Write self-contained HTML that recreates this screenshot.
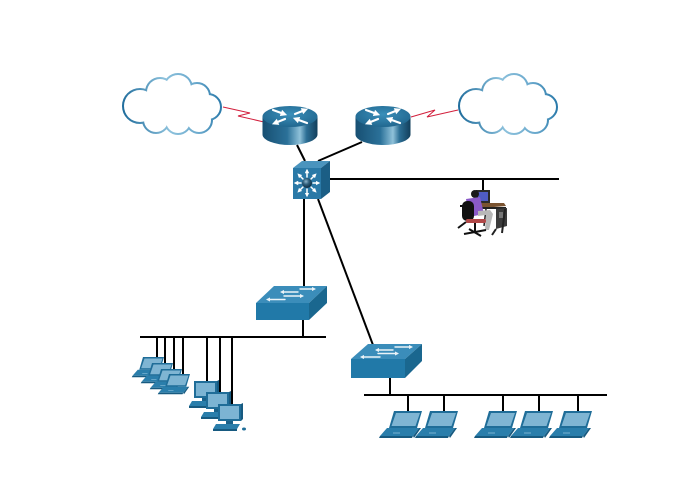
<!DOCTYPE html>
<html><head><meta charset="utf-8"><style>
html,body{margin:0;padding:0;background:#fff;}
svg{display:block;}
</style></head><body>
<svg width="680" height="490" viewBox="0 0 680 490" xmlns="http://www.w3.org/2000/svg">
<defs>
  <linearGradient id="cg" gradientUnits="userSpaceOnUse" x1="122" y1="110" x2="222" y2="100">
    <stop offset="0" stop-color="#1d6b9b"/>
    <stop offset="0.45" stop-color="#8cc1dc"/>
    <stop offset="0.75" stop-color="#6aa9cd"/>
    <stop offset="1" stop-color="#2677a8"/>
  </linearGradient>
  <linearGradient id="rbody" x1="0" y1="0" x2="1" y2="0">
    <stop offset="0" stop-color="#174f72"/>
    <stop offset="0.45" stop-color="#2b7199"/>
    <stop offset="0.68" stop-color="#8fc1d9"/>
    <stop offset="0.8" stop-color="#2c6f95"/>
    <stop offset="1" stop-color="#123f5c"/>
  </linearGradient>
  <radialGradient id="rtop" cx="0.5" cy="0.4" r="0.6">
    <stop offset="0" stop-color="#3a8fba"/>
    <stop offset="1" stop-color="#21678f"/>
  </radialGradient>
  <radialGradient id="ball" cx="0.4" cy="0.35" r="0.6">
    <stop offset="0" stop-color="#8fb6cc"/>
    <stop offset="0.5" stop-color="#2f5f7c"/>
    <stop offset="1" stop-color="#12334a"/>
  </radialGradient>
  <marker id="ah" viewBox="0 0 6 6" refX="3" refY="3" markerWidth="3" markerHeight="3" orient="auto">
    <path d="M0,0 L6,3 L0,6 Z" fill="#fff"/>
  </marker>
  <g id="laptop">
    <polygon points="4,0 32,0 27,17 -1,17" fill="#1f6d98"/>
    <polygon points="6,2 30,2 25.5,15 1.5,15" fill="#7fb5d3"/>
    <polygon points="-3,17 29,17 23,25 -10,25" fill="#2a7eab"/>
    <polygon points="-10,25 23,25 22,27 -11,27" fill="#175a80"/>
    <polygon points="29,17 31,17 24,27 23,25" fill="#175a80"/>
    <line x1="3" y1="22" x2="10" y2="22" stroke="#8cc0dc" stroke-width="0.8"/>
  </g>
  <g id="pc">
    <rect x="0" y="0" width="23" height="17" fill="#1f6d98"/>
    <rect x="2" y="2" width="19" height="13" fill="#7cb4d3"/>
    <polygon points="23,0 25,-1 25,15 23,17" fill="#175a80"/>
    <rect x="8" y="17" width="7" height="3" fill="#1a6189"/>
    <polygon points="-2,20 22,20 19,25 -5,25" fill="#2a7eab"/>
    <polygon points="-5,25 19,25 19,27 -5,27" fill="#175a80"/>
  </g>
  <g id="router">
    <path d="M-27.5,0 L-27.5,18 A27.5,10.5 0 0 0 27.5,18 L27.5,0 Z" fill="url(#rbody)"/>
    <ellipse cx="0" cy="0" rx="27.5" ry="10.5" fill="url(#rtop)"/>
    <g stroke="#fff" stroke-width="2.2" stroke-linecap="round">
      <line x1="-17" y1="-6.5" x2="-6" y2="-2.5" marker-end="url(#ah)"/>
      <line x1="17" y1="6.5" x2="6" y2="2.5" marker-end="url(#ah)"/>
      <line x1="5" y1="-2.5" x2="15" y2="-6.5" marker-end="url(#ah)"/>
      <line x1="-5" y1="2.5" x2="-15" y2="6.5" marker-end="url(#ah)"/>
    </g>
  </g>
  <g id="cloud">
    <g fill="none" stroke="url(#cg)" stroke-width="4">
      <circle cx="140" cy="106" r="16"/>
      <circle cx="160" cy="92" r="13"/>
      <circle cx="178" cy="88" r="13"/>
      <circle cx="197" cy="96" r="12"/>
      <circle cx="208" cy="107" r="12"/>
      <circle cx="199" cy="120" r="12"/>
      <circle cx="178" cy="121" r="12"/>
      <circle cx="156" cy="120" r="12"/>
    </g>
    <g fill="#fff">
      <circle cx="140" cy="106" r="16"/>
      <circle cx="160" cy="92" r="13"/>
      <circle cx="178" cy="88" r="13"/>
      <circle cx="197" cy="96" r="12"/>
      <circle cx="208" cy="107" r="12"/>
      <circle cx="199" cy="120" r="12"/>
      <circle cx="178" cy="121" r="12"/>
      <circle cx="156" cy="120" r="12"/>
      <circle cx="175" cy="106" r="20"/>
      <circle cx="192" cy="108" r="15"/>
      <circle cx="158" cy="106" r="15"/>
      <circle cx="188" cy="100" r="14"/>
    </g>
  </g>
</defs>

<!-- clouds -->
<use href="#cloud"/>
<use href="#cloud" transform="translate(336,0)"/>

<!-- serial links -->
<polyline points="223,107 250,113 238,116 264,122" fill="none" stroke="#d21f3c" stroke-width="1"/>
<polyline points="411,117 435,110 427,117 458,110" fill="none" stroke="#d21f3c" stroke-width="1"/>

<!-- black links -->
<g stroke="#000" stroke-width="2" fill="none">
  <line x1="297" y1="145" x2="305" y2="161"/>
  <line x1="362" y1="142" x2="318" y2="161"/>
  <line x1="330" y1="179" x2="559" y2="179"/>
  <line x1="483" y1="179" x2="483" y2="190"/>
  <line x1="304" y1="198" x2="304" y2="288"/>
  <line x1="318" y1="199" x2="373" y2="345"/>
  <line x1="303" y1="318" x2="303" y2="337"/>
  <line x1="140" y1="337" x2="326" y2="337"/>
  <line x1="157" y1="337" x2="157" y2="360"/>
  <line x1="165" y1="337" x2="165" y2="366"/>
  <line x1="174" y1="337" x2="174" y2="372"/>
  <line x1="183" y1="337" x2="183" y2="377"/>
  <line x1="207" y1="337" x2="207" y2="383"/>
  <line x1="220" y1="337" x2="220" y2="394"/>
  <line x1="232" y1="337" x2="232" y2="406"/>
  <line x1="390" y1="376" x2="390" y2="395"/>
  <line x1="364" y1="395" x2="607" y2="395"/>
  <line x1="408" y1="395" x2="408" y2="412"/>
  <line x1="444" y1="395" x2="444" y2="412"/>
  <line x1="503" y1="395" x2="503" y2="412"/>
  <line x1="539" y1="395" x2="539" y2="412"/>
  <line x1="578" y1="395" x2="578" y2="412"/>
</g>

<!-- routers -->
<use href="#router" transform="translate(290,116.5)"/>
<use href="#router" transform="translate(383,116.5)"/>

<!-- multilayer switch -->
<polygon points="293,168 321,168 330,161 302,161" fill="#4a94be"/>
<polygon points="321,168 330,161 330,192 321,199" fill="#1b5e85"/>
<rect x="293" y="168" width="28" height="31" fill="#2a79a7"/>
<g stroke="#fff" stroke-width="1.5" stroke-linecap="round">
  <line x1="307" y1="177" x2="307" y2="171" marker-end="url(#ah)"/>
  <line x1="307" y1="189" x2="307" y2="195" marker-end="url(#ah)"/>
  <line x1="301" y1="183" x2="296" y2="183" marker-end="url(#ah)"/>
  <line x1="313" y1="183" x2="318" y2="183" marker-end="url(#ah)"/>
  <line x1="303" y1="179" x2="299" y2="175" marker-end="url(#ah)"/>
  <line x1="311" y1="179" x2="315" y2="175" marker-end="url(#ah)"/>
  <line x1="303" y1="187" x2="299" y2="191" marker-end="url(#ah)"/>
  <line x1="311" y1="187" x2="315" y2="191" marker-end="url(#ah)"/>
</g>
<circle cx="307" cy="183" r="5" fill="url(#ball)"/>

<!-- switch 1 -->
<polygon points="256,303 309,303 327,286 274,286" fill="#3b8dba"/>
<polygon points="309,303 327,286 327,303 309,320" fill="#1a678f"/>
<rect x="256" y="303" width="53" height="17" fill="#2179a8"/>
<g stroke="#fff" stroke-width="1.4" stroke-linecap="round" opacity="0.9">
  <line x1="300" y1="289" x2="314" y2="289" marker-end="url(#ah)"/>
  <line x1="298" y1="292" x2="282" y2="292" marker-end="url(#ah)"/>
  <line x1="284" y1="296" x2="302" y2="296" marker-end="url(#ah)"/>
  <line x1="285" y1="299.5" x2="268" y2="299.5" marker-end="url(#ah)"/>
</g>

<!-- switch 2 -->
<polygon points="351,359 405,359 422,344 368,344" fill="#3b8dba"/>
<polygon points="405,359 422,344 422,361 405,378" fill="#1a678f"/>
<rect x="351" y="359" width="54" height="19" fill="#2179a8"/>
<g stroke="#fff" stroke-width="1.4" stroke-linecap="round" opacity="0.9">
  <line x1="395" y1="347" x2="411" y2="347" marker-end="url(#ah)"/>
  <line x1="393" y1="350" x2="377" y2="350" marker-end="url(#ah)"/>
  <line x1="378" y1="353.5" x2="397" y2="353.5" marker-end="url(#ah)"/>
  <line x1="380" y1="357" x2="362" y2="357" marker-end="url(#ah)"/>
</g>

<!-- left laptops (stacked) -->
<use href="#laptop" transform="translate(140,357) scale(0.75)"/>
<use href="#laptop" transform="translate(149,363) scale(0.75)"/>
<use href="#laptop" transform="translate(158,369) scale(0.75)"/>
<use href="#laptop" transform="translate(166,374) scale(0.75)"/>

<!-- PCs -->
<use href="#pc" transform="translate(194,381)"/>
<use href="#pc" transform="translate(206,392)"/>
<use href="#pc" transform="translate(218,404)"/>
<ellipse cx="244" cy="429" rx="2" ry="1.5" fill="#1f6d98"/>

<!-- bottom laptops -->
<use href="#laptop" transform="translate(390,411)"/>
<use href="#laptop" transform="translate(426,411)"/>
<use href="#laptop" transform="translate(485,411)"/>
<use href="#laptop" transform="translate(521,411)"/>
<use href="#laptop" transform="translate(560,411)"/>

<!-- person at workstation -->
<g>
  <rect x="476" y="190" width="14" height="13" fill="#2b2b2b"/>
  <rect x="478" y="192" width="10" height="9" fill="#4f5cc4"/>
  <polygon points="480,203 504,203 506,206 482,208" fill="#7a5330"/>
  <rect x="482" y="207" width="24" height="2" fill="#222"/>
  <polygon points="496,209 507,208 507,226 496,229" fill="#3c3c3c"/>
  <rect x="499" y="212" width="4" height="6" fill="#777"/>
  <line x1="486" y1="209" x2="484" y2="226" stroke="#222" stroke-width="1.5"/>
  <line x1="505" y1="209" x2="502" y2="233" stroke="#222" stroke-width="2"/>
  <line x1="496" y1="229" x2="492" y2="235" stroke="#222" stroke-width="2"/>
  <circle cx="475" cy="194" r="4" fill="#1a1a1a"/>
  <polygon points="466,199 480,197 484,214 469,217" fill="#8a5ac8"/>
  <polygon points="478,211 490,210 493,214 489,230 485,230 486,215 478,216" fill="#b8b8b8"/>
  <rect x="462" y="201" width="12" height="20" rx="5" fill="#111"/>
  <rect x="466" y="219" width="20" height="4" rx="1.5" fill="#b14848"/>
  <line x1="475" y1="223" x2="475" y2="231" stroke="#111" stroke-width="2"/>
  <line x1="464" y1="234" x2="486" y2="230" stroke="#111" stroke-width="2"/>
  <line x1="469" y1="229" x2="481" y2="236" stroke="#111" stroke-width="2"/>
  <line x1="458" y1="228" x2="466" y2="222" stroke="#111" stroke-width="2"/>
  <line x1="460" y1="206" x2="464" y2="206" stroke="#111" stroke-width="2"/>
</g>
</svg>
</body></html>
